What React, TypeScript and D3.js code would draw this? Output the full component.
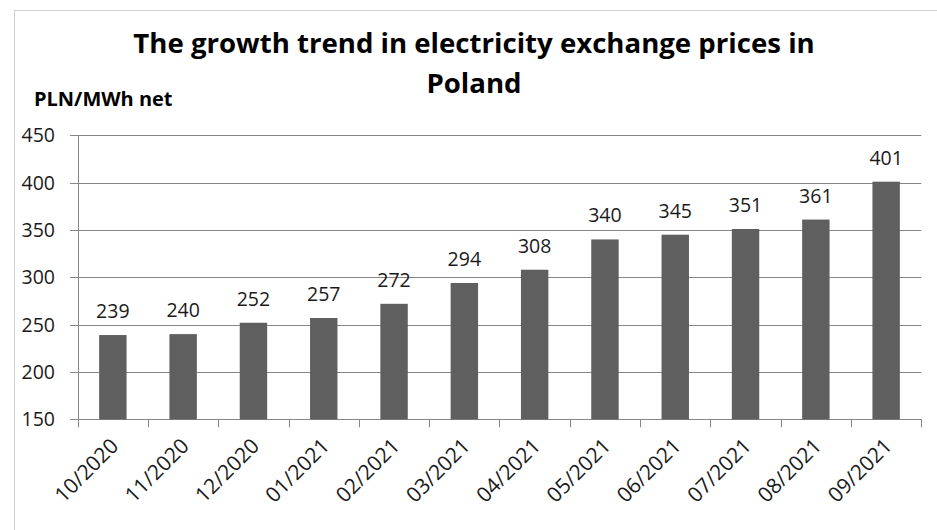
import React from "react";
import * as d3 from "d3";

const categories = ["10/2020","11/2020","12/2020","01/2021","02/2021","03/2021","04/2021","05/2021","06/2021","07/2021","08/2021","09/2021"];
const prices = [239,240,252,257,272,294,308,340,345,351,361,401];
const yTicks = [150,200,250,300,350,400,450];
const titleLines = ["The growth trend in electricity exchange prices in","Poland"];
const yAxisTitle = "PLN/MWh net";

const W = 937, H = 530;
const left = 77.7, right = 921.3, top = 135.3, bottom = 419.3;
const FONT = "'Open Sans', sans-serif";

export default function App() {
  const x = d3.scaleBand<string>().domain(categories).range([left, right]).paddingInner(0.61).paddingOuter(0.305);
  const band = d3.scaleBand<string>().domain(categories).range([left, right]);
  const y = d3.scaleLinear().domain([150, 450]).range([bottom, top]);
  const grid = "#868686";
  return (
    <svg width={W} height={H} style={{ position: "absolute", left: 0, top: 0, background: "#fff" }} fontFamily={FONT}>
      <rect x={14.5} y={10.5} width={1000} height={1000} fill="#fff" stroke="#d0d0d0" strokeWidth={1} />
      {titleLines.map((t, i) => (
        <text key={i} x={474} y={53 + i * 40} textAnchor="middle" fontWeight="bold" fontSize={27.6} fill="#000">{t}</text>
      ))}
      <text x={34} y={106} fontWeight="bold" fontSize={20} fill="#000">{yAxisTitle}</text>
      {yTicks.map((t) => (
        <g key={t}>
          <line x1={70} x2={right} y1={Math.round(y(t)) + 0.5} y2={Math.round(y(t)) + 0.5} stroke={grid} strokeWidth={1} />
          <text x={55} y={y(t)} dy="0.36em" textAnchor="end" fontSize={19.5} fill="#1a1a1a">{t}</text>
        </g>
      ))}
      <line x1={Math.round(left) + 0.5} x2={Math.round(left) + 0.5} y1={top} y2={bottom + 8} stroke={grid} />
      {categories.map((c, i) => {
        const xx = left + band.bandwidth() * (i + 1);
        return <line key={i} x1={Math.round(xx) + 0.5} x2={Math.round(xx) + 0.5} y1={bottom} y2={bottom + 8} stroke={grid} />;
      })}
      {categories.map((c, i) => (
        <g key={c}>
          <rect x={x(c)} y={y(prices[i])} width={x.bandwidth()} height={bottom - y(prices[i])} fill="#5f5f5f" />
          <text x={x(c)! + x.bandwidth() / 2} y={y(prices[i]) - 17} textAnchor="middle" fontSize={19.5} fill="#1a1a1a">{prices[i]}</text>
          <text transform={`translate(${band(c)! + band.bandwidth() / 2 + 7},${bottom + 28}) rotate(-45)`} textAnchor="end" fontSize={21} fill="#1a1a1a">{c}</text>
        </g>
      ))}
    </svg>
  );
}
